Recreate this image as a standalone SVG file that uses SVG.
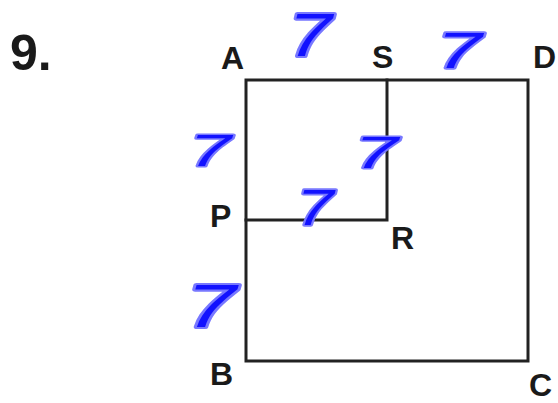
<svg xmlns="http://www.w3.org/2000/svg" width="558" height="403" viewBox="0 0 558 403">
<style>
.ln{fill:none;stroke:#222;stroke-width:3;stroke-linecap:square;stroke-linejoin:miter}
.lbl{font-family:"Liberation Sans",Arial,sans-serif;font-weight:bold;font-size:32px;fill:#1a1a1a}
.num{font-family:"Liberation Sans",Arial,sans-serif;font-weight:bold;font-size:50px;fill:#1a1a1a}
.hw{font-family:"Liberation Sans",Arial,sans-serif;font-weight:normal;font-style:italic;font-size:58px;fill:#1212ff;stroke:#7878ff;stroke-width:4;stroke-linejoin:round;paint-order:stroke;text-anchor:middle}
</style>
<rect width="558" height="403" fill="#fff"/>
<g id="problem-number"><text class="num" x="10" y="70">9.</text></g>
<g id="connectors">
<rect class="ln" x="246" y="80" width="282" height="281"/>
<polyline class="ln" points="387,80 387,220 246,220"/>
</g>
<g id="point-A"><text class="lbl" x="221" y="69">A</text></g>
<g id="point-S"><text class="lbl" x="372" y="68">S</text></g>
<g id="point-D"><text class="lbl" x="533" y="68">D</text></g>
<g id="point-P"><text class="lbl" x="210" y="227">P</text></g>
<g id="point-R"><text class="lbl" x="391" y="249">R</text></g>
<g id="point-B"><text class="lbl" x="210" y="385">B</text></g>
<g id="point-C"><text class="lbl" x="529" y="396">C</text></g>
<g id="len-AS"><text class="hw" transform="translate(310,34) scale(1.35,1.05)" y="21">7</text></g>
<g id="len-SD"><text class="hw" transform="translate(459,50) scale(1.4,0.85)" y="21">7</text></g>
<g id="len-AP"><text class="hw" transform="translate(210,150) scale(1.3,0.75)" y="21">7</text></g>
<g id="len-SR"><text class="hw" transform="translate(376,152) scale(1.35,0.75)" y="21">7</text></g>
<g id="len-PR"><text class="hw" transform="translate(315,207) scale(1.15,0.85)" y="21">7</text></g>
<g id="len-PB"><text class="hw" transform="translate(211,305) scale(1.55,1.05)" y="21">7</text></g>
</svg>
